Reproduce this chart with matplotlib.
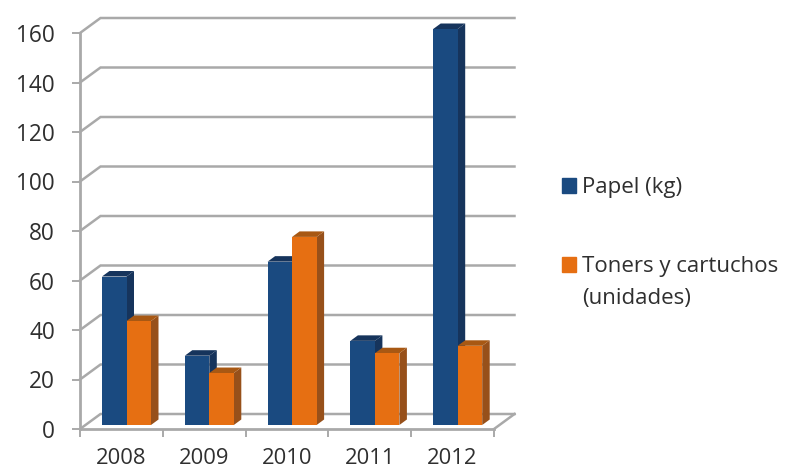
import matplotlib.pyplot as plt
from matplotlib.patches import Patch, Polygon

plt.rcParams['font.family'] = ['Open Sans', 'DejaVu Sans']

years = ['2008', '2009', '2010', '2011', '2012']
papel = [60, 28, 66, 34, 160]
toners = [42, 21, 76, 29, 32]
yticks = list(range(0, 161, 20))

W, H = 785, 472
fig = plt.figure(figsize=(W / 100, H / 100), dpi=100)
# front plane of the fake 3d box, in pixels
left, right, bottom, top = 80, 494, 429, 33
ax = fig.add_axes([left / W, 1 - bottom / H, (right - left) / W, (bottom - top) / H])
ax.set_xlim(0, 5)
ax.set_ylim(0, 160)
ax.patch.set_visible(False)

px_x = 5 / (right - left)
px_y = 160 / (bottom - top)
wall_dx, wall_dy = 20.5 * px_x, 15 * px_y
depth_dx, depth_dy = 7.5 * px_x, 5.5 * px_y
bar_w = 24.5 * px_x
bar_x = 22 * px_x
bar_y = 4 * px_y

GRID = '#a9a9a9'
TEXT = '#2f2f2f'
BLUE, ORANGE = '#1a4a80', '#e66f12'

for v in yticks:
    ax.plot([0, wall_dx, 5 + wall_dx], [v, v + wall_dy, v + wall_dy],
            color=GRID, lw=1.8, clip_on=False, zorder=1, solid_joinstyle='miter')
ax.plot([5, 5 + wall_dx], [0, wall_dy], color=GRID, lw=1.8, clip_on=False, zorder=1)


def bar3d(x, v, front, side, cap):
    y0 = bar_y
    y1 = v + bar_y
    x1 = x + bar_w
    ax.add_patch(Polygon([(x1, y0), (x1 + depth_dx, y0 + depth_dy),
                          (x1 + depth_dx, y1 + depth_dy), (x1, y1)],
                         fc=side, ec='none', clip_on=False, zorder=3))
    ax.add_patch(Polygon([(x, y1), (x + depth_dx, y1 + depth_dy),
                          (x1 + depth_dx, y1 + depth_dy), (x1, y1)],
                         fc=cap, ec='none', clip_on=False, zorder=3))
    ax.bar(x, v, bar_w, bottom=y0, align='edge', color=front, clip_on=False, zorder=3)


for i in range(len(years)):
    bar3d(i + bar_x, papel[i], BLUE, '#16345c', '#16345c')
    bar3d(i + bar_x + bar_w, toners[i], ORANGE, '#97501a', '#a85813')

for side in ['top', 'right']:
    ax.spines[side].set_visible(False)
for side in ['left', 'bottom']:
    ax.spines[side].set_color(GRID)
    ax.spines[side].set_linewidth(2)
    ax.spines[side].set_zorder(2)

ax.set_yticks(yticks)
ax.tick_params(axis='y', length=6, width=1.4, color=GRID, pad=12, labelsize=16.3, labelcolor=TEXT)
ax.set_xticks(range(6))
ax.set_xticks([i + 0.5 for i in range(5)], minor=True)
ax.set_xticklabels([])
ax.set_xticklabels(years, minor=True)
ax.tick_params(axis='x', which='major', length=6, width=1.4, color=GRID)
ax.tick_params(axis='x', which='minor', length=0, pad=14, labelsize=15.8, labelcolor=TEXT)

# two separate legends so the second label can wrap with its swatch on the first line
opts = dict(loc='upper left', frameon=False, fontsize=16, labelcolor=TEXT, handlelength=0.63,
            handleheight=0.65, handletextpad=0.28, borderpad=0, borderaxespad=0)
fig.legend([Patch(color=BLUE)], ['Papel (kg)'], bbox_to_anchor=(562 / W, 1 - 177 / H), **opts)
fig.legend([Patch(color=ORANGE), Patch(visible=False)], ['Toners y cartuchos', '(unidades)'],
           bbox_to_anchor=(562 / W, 1 - 256 / H), labelspacing=0.5, **opts)

fig.savefig('out.png', dpi=100, facecolor='white')
